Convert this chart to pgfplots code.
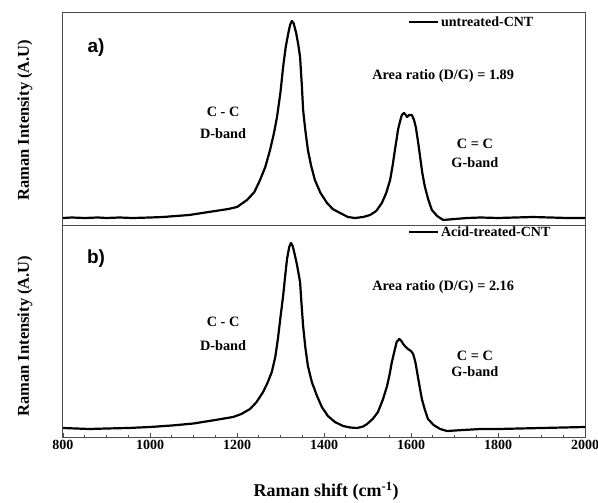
\documentclass[border=0pt]{standalone}
\usepackage{fontspec}
\setmainfont{Liberation Serif}
\newfontfamily\sansfam{Liberation Sans}
\usepackage{pgfplots}
\pgfplotsset{compat=1.18}
\usepackage{pgfplotstable}

\pgfplotstableread{
x y
800 7
820 7.5
850 7
880 7.5
900 7
930 7.5
960 7
1000 7.5
1030 8
1060 9
1090 10
1120 12
1150 14
1180 16
1200 18
1223 25
1240 33
1253 45
1265 58
1276 75
1285 92
1292 108
1300 133
1306 158
1312 178
1318 192
1322 200
1326 204
1330 202
1336 192
1341 180
1345 168
1349 140
1352 115
1357 95
1363 75
1370 60
1379 45
1392 32
1407 22
1420 16
1437 12
1455 8
1471 7
1490 8
1506 10
1520 14
1533 22
1543 32
1552 45
1558 60
1563 75
1567 86
1570 95
1575 104
1579 110
1584 112
1588 110
1591 108
1596 110
1602 110
1607 105
1611 98
1616 84
1621 68
1626 52
1632 38
1640 25
1648 15
1660 9
1674 5
1700 6
1730 7
1760 7.5
1800 7
1840 7.5
1880 8
1920 7.5
1960 7
2000 7
}\topdata

\pgfplotstableread{
x y
800 9
830 8.5
860 8
900 8.5
950 9
1000 10
1050 11.5
1100 13.5
1150 17
1191 20
1210 23
1230 28
1245 35
1260 45
1270 54
1280 65
1288 80
1294 98
1300 120
1306 141
1311 162
1315 178
1320 190
1324 194
1328 191
1333 182
1338 172
1345 155
1348 135
1352 111
1357 90
1363 71
1372 55
1384 41
1395 30
1409 21
1425 15
1444 11
1460 9.5
1476 9
1490 10.5
1499 13
1512 18
1524 25
1535 37
1545 51
1551 63
1556 75
1562 86
1567 95
1573 98
1578 96
1582 93
1588 90
1593 88
1600 86
1605 83
1610 75
1614 65
1620 50
1625 38
1632 27
1639 18
1652 12
1667 8
1683 6
1720 7
1760 8
1800 8
1850 8.5
1900 9
1950 9.5
2000 10
}\botdata

\tikzset{ann/.style={font=\bfseries\fontsize{14.3}{14.3}\selectfont, inner sep=0pt}}

\begin{document}
\begin{tikzpicture}
\useasboundingbox (0pt,0pt) rectangle (598pt,-503pt);
\pgfplotsset{
  panel/.style={
    width=522pt, height=212pt, scale only axis,
    xmin=800, xmax=2000, ymin=0, ymax=212,
    ytick=\empty, clip mode=individual,
    axis line style={line width=1pt, black!70},
    legend style={draw=none, fill=none, inner sep=0pt, outer sep=0pt,
      font=\bfseries\fontsize{14}{14}\selectfont, cells={anchor=west}},
    legend image code/.code={\draw[line width=2pt,black] (0pt,0pt) -- (29pt,0pt);},
  },
}

% top panel
\begin{axis}[panel, at={(63pt,-13pt)}, anchor=north west,
  xtick=\empty,
  legend style={at={(0.661,0.958)}, anchor=west}]
\addplot[black, line width=2.2pt, line join=round] table[x=x,y=y] {\topdata};
\addlegendentry{untreated-CNT}
\node[font=\sansfam\bfseries\fontsize{19}{19}\selectfont, inner sep=0pt] at (axis cs:876,177) {a)};
\node[ann] at (axis cs:1168,113) {C - C};
\node[ann] at (axis cs:1168,91) {D-band};
\node[ann] at (axis cs:1674,149) {Area ratio (D/G) = 1.89};
\node[ann] at (axis cs:1747,81) {C = C};
\node[ann] at (axis cs:1747,62) {G-band};
\node[rotate=90, font=\bfseries\fontsize{16.5}{16.5}\selectfont, inner sep=0pt] at (rel axis cs:-0.0728,0.495) {Raman Intensity (A.U)};
\end{axis}

% bottom panel
\begin{axis}[panel, at={(63pt,-225pt)}, anchor=north west,
  xtick={800,1000,...,2000}, minor x tick num=3,
  tick pos=bottom, tick align=inside,
  major tick length=4pt, minor tick length=2.5pt,
  tick style={black!70, line width=0.8pt},
  xticklabel style={font=\bfseries\fontsize{14}{14}\selectfont},
  /pgf/number format/assume math mode=true,
  /pgf/number format/1000 sep={},
  legend style={at={(0.661,0.967)}, anchor=west}]
\addplot[black, line width=2.2pt, line join=round] table[x=x,y=y] {\botdata};
\addlegendentry{Acid-treated-CNT}
\node[font=\sansfam\bfseries\fontsize{19}{19}\selectfont, inner sep=0pt] at (axis cs:876,178) {b)};
\node[ann] at (axis cs:1168,115) {C - C};
\node[ann] at (axis cs:1168,91) {D-band};
\node[ann] at (axis cs:1674,150) {Area ratio (D/G) = 2.16};
\node[ann] at (axis cs:1747,81) {C = C};
\node[ann] at (axis cs:1747,65) {G-band};
\node[rotate=90, font=\bfseries\fontsize{16.5}{16.5}\selectfont, inner sep=0pt] at (rel axis cs:-0.0728,0.476) {Raman Intensity (A.U)};
\node[font=\bfseries\fontsize{18}{18}\selectfont, inner sep=0pt] at ([yshift=-54pt]rel axis cs:0.504,0) {Raman shift (cm\textsuperscript{-1})};
\end{axis}
\end{tikzpicture}
\end{document}
